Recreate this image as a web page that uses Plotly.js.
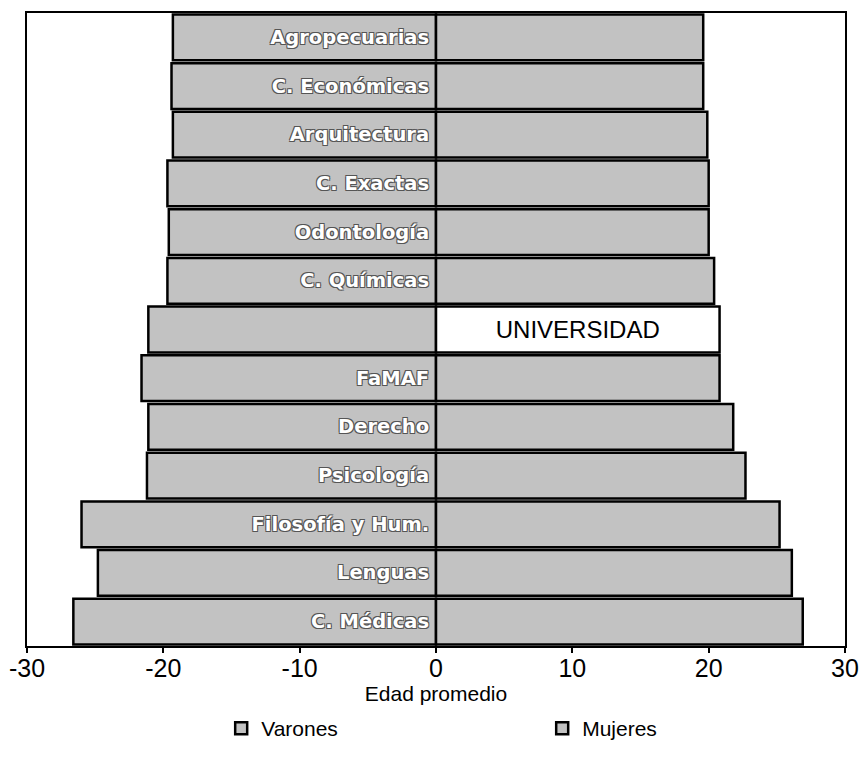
<!DOCTYPE html>
<html>
<head>
<meta charset="utf-8">
<script src="https://cdn.plot.ly/plotly-3.0.1.min.js"></script>
<style>html,body{margin:0;padding:0;background:#fff;}#chart{width:864px;height:759px;}</style>
</head>
<body>
<div id="chart"></div>
<script>
const categories = ['Agropecuarias','C. Económicas','Arquitectura','C. Exactas','Odontología','C. Químicas','UNIVERSIDAD','FaMAF','Derecho','Psicología','Filosofía y Hum.','Lenguas','C. Médicas'];
const varones = [-19.3,-19.4,-19.3,-19.7,-19.6,-19.7,-21.1,-21.6,-21.1,-21.2,-26.0,-24.8,-26.6];
const mujeres = [19.6,19.6,19.9,20.0,20.0,20.4,20.8,20.8,21.8,22.7,25.2,26.1,26.9];
const highlight = 'UNIVERSIDAD';
const xTicks = [-30,-20,-10,0,10,20,30];

const gray = '#c2c2c2';
const traceV = {
  type:'bar', orientation:'h', name:'Varones',
  y: categories, x: varones,
  marker:{color: gray, line:{color:'#000', width:2.5}},
  text: categories.map(c => c === highlight ? '' : c + '\u2009'),
  textposition:'inside', insidetextanchor:'start', constraintext:'none',
  textangle:0,
  textfont:{family:'DejaVu Sans, sans-serif', size:19.5, color:'#fff', weight:'bold',
    shadow:'1px 1px 0 #555, -1px -1px 0 #555, 1px -1px 0 #555, -1px 1px 0 #555'},
  hoverinfo:'skip'
};
const traceM = {
  type:'bar', orientation:'h', name:'Mujeres',
  y: categories, x: mujeres,
  marker:{color: categories.map(c => c === highlight ? '#ffffff' : gray), line:{color:'#000', width:2.5}},
  text: categories.map(c => c === highlight ? c : ''),
  textposition:'inside', insidetextanchor:'middle', constraintext:'none',
  textangle:0,
  textfont:{family:'Liberation Sans, Arial, sans-serif', size:24, color:'#000'},
  hoverinfo:'skip'
};

const layout = {
  width:864, height:759,
  margin:{l:27, r:19, t:13, b:113, autoexpand:false},
  paper_bgcolor:'#fff', plot_bgcolor:'#fff',
  barmode:'relative', bargap:0.06,
  font:{family:'Liberation Sans, Arial, sans-serif', color:'#000', size:21},
  xaxis:{
    range:[-30,30], tickvals:xTicks, ticktext:xTicks.map(String),
    ticks:'outside', ticklen:5, tickwidth:2, tickcolor:'#000',
    ticklabelstandoff:-6,
    showline:true, linecolor:'#000', linewidth:2, mirror:true,
    showgrid:false, zeroline:false,
    tickfont:{size:25},
    title:{text:'Edad promedio', font:{size:21}, standoff:0}
  },
  yaxis:{
    type:'category', autorange:'reversed', showticklabels:false, ticks:'',
    showline:true, linecolor:'#000', linewidth:2, mirror:true,
    showgrid:false, zeroline:false
  },
  showlegend:true,
  legend:{orientation:'h', xref:'container', yref:'container', x:0.256, xanchor:'left', y:0.04, yanchor:'middle',
    entrywidth:276, entrywidthmode:'pixels', font:{size:21}, traceorder:'normal'}
};

Plotly.newPlot('chart', [traceV, traceM], layout, {staticPlot:true, displayModeBar:false});
</script>
</body>
</html>
